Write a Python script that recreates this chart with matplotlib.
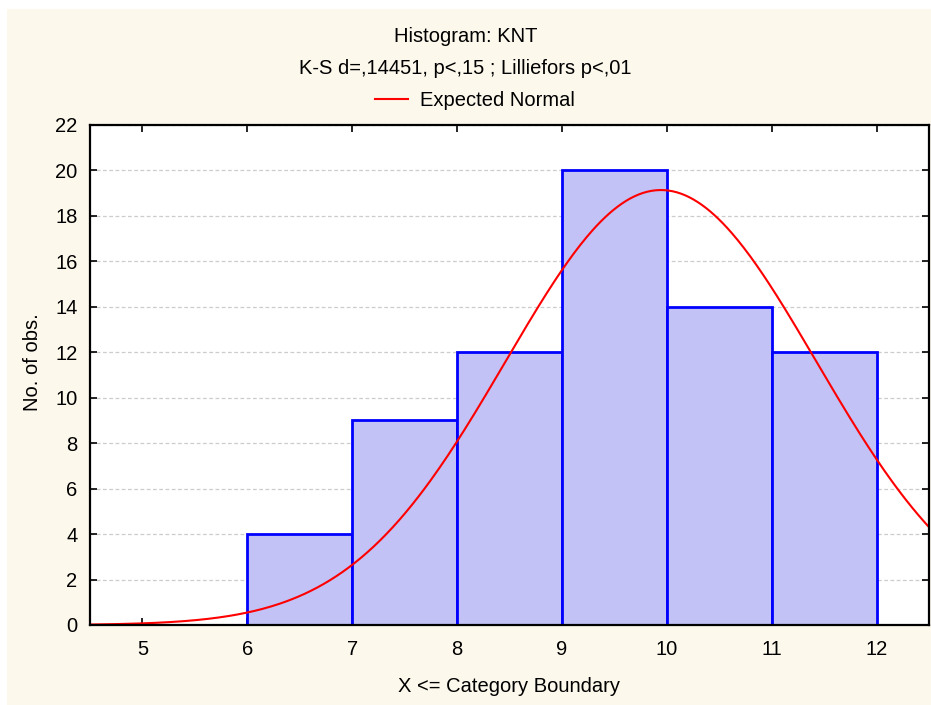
import numpy as np
import matplotlib
matplotlib.use("Agg")
import matplotlib.pyplot as plt
from matplotlib.lines import Line2D
from matplotlib.patches import Rectangle

plt.rcParams['font.family'] = ['Liberation Sans', 'DejaVu Sans']

# histogram data (X <= category boundary)
bin_left = [6, 7, 8, 9, 10, 11]
counts = [4, 9, 12, 20, 14, 12]
bin_width = 1.0
# expected normal parameters
norm_mean = 9.944
norm_sd = 1.48
n_obs = sum(counts)
x_ticks = [5, 6, 7, 8, 9, 10, 11, 12]
y_ticks = list(range(0, 23, 2))

fs = 14.5
bg = '#FDF8EC'
fig = plt.figure(figsize=(9.31, 7.05), dpi=100)
fig.patch.set_facecolor('white')
fig.patches.append(Rectangle((7 / 931, 0), 1, 1 - 9 / 705, transform=fig.transFigure,
                             facecolor=bg, edgecolor='none', zorder=-10))

ax = fig.add_axes([90 / 931, 1 - 625 / 705, 839 / 931, 500 / 705])
ax.set_facecolor('white')

ax.bar(bin_left, counts, width=bin_width, align='edge', color='#C2C2F6',
       edgecolor='#0000FF', linewidth=2.0, zorder=2)

xs = np.linspace(4.5, 12.5, 400)
ys = n_obs * bin_width / (norm_sd * np.sqrt(2 * np.pi)) * np.exp(-0.5 * ((xs - norm_mean) / norm_sd) ** 2)
ax.plot(xs, ys, color='#FF0000', linewidth=1.5, zorder=3)

ax.set_xlim(4.5, 12.5)
ax.set_ylim(0, 22)
ax.set_xticks(x_ticks)
ax.set_yticks(y_ticks)
ax.yaxis.grid(True, linestyle=(0, (3, 2)), color='#CCCCCC', linewidth=0.9, zorder=0)
ax.set_axisbelow(True)
ax.tick_params(direction='in', length=5, width=1.2, top=True, right=True,
               labelsize=fs, colors='black')
ax.tick_params(axis='x', pad=11)
ax.tick_params(axis='y', pad=9)
for s in ax.spines.values():
    s.set_linewidth(1.6)
    s.set_zorder(5)

ax.set_xlabel('X <= Category Boundary', fontsize=fs, va='center')
ax.xaxis.set_label_coords(0.5, -61 / 500)
ax.set_ylabel('No. of obs.', fontsize=fs, va='center')
ax.yaxis.set_label_coords(-58 / 839, 0.5 + 13 / 500)

fig.text(0.5, 1 - 36 / 705, 'Histogram: KNT', ha='center', va='center', fontsize=fs)
fig.text(0.5, 1 - 68 / 705, 'K-S d=,14451, p<,15 ; Lilliefors p<,01', ha='center',
         va='center', fontsize=fs)
fig.lines.append(Line2D([375 / 931, 408 / 931], [1 - 99 / 705, 1 - 99 / 705],
                        transform=fig.transFigure, color='#FF0000', linewidth=1.5))
fig.text(420 / 931, 1 - 100 / 705, 'Expected Normal', ha='left', va='center', fontsize=fs)

fig.savefig('out.png', dpi=100, facecolor=fig.get_facecolor())
